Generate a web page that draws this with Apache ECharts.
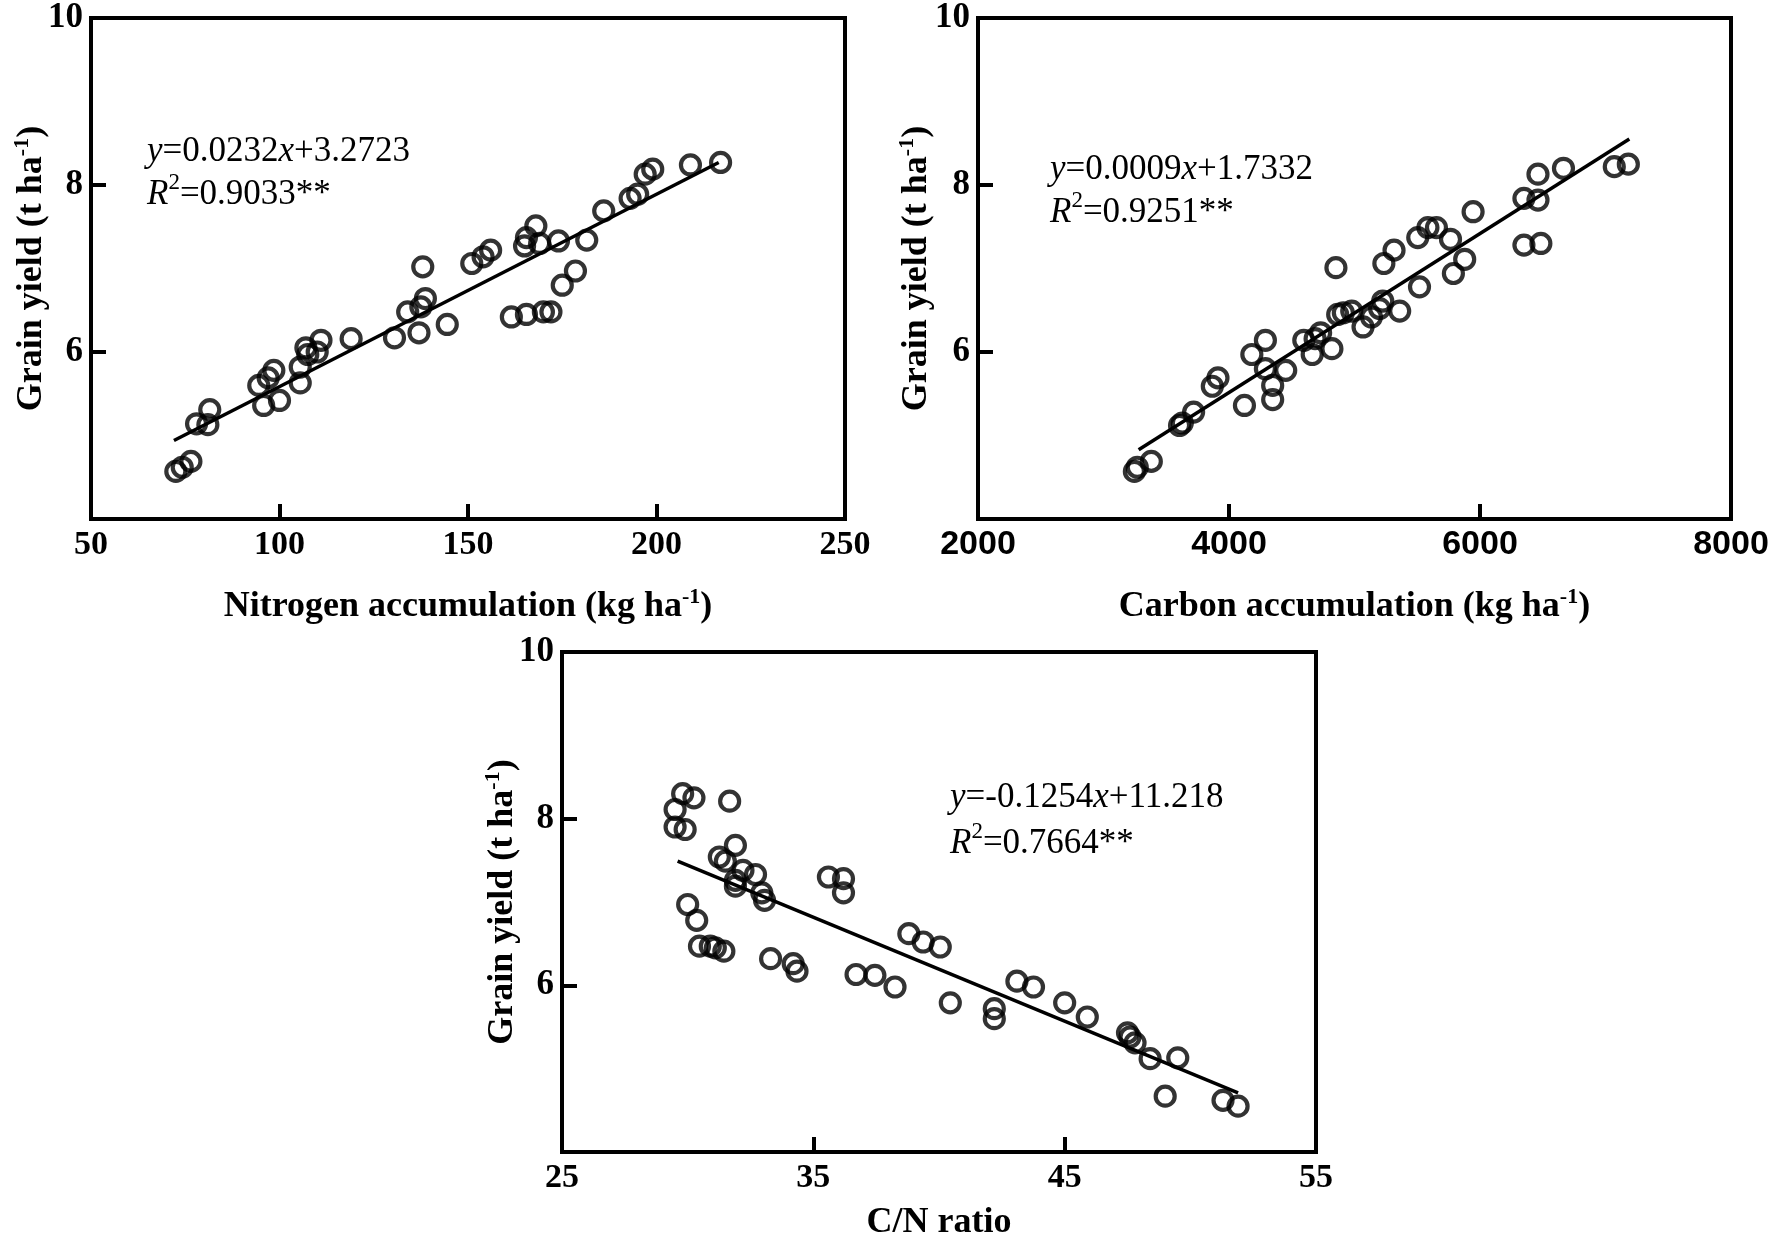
<!DOCTYPE html>
<html>
<head>
<meta charset="utf-8">
<script src="https://cdn.jsdelivr.net/npm/echarts@6/dist/echarts.min.js"></script>
<style>
  html, body { margin: 0; padding: 0; background: #fff; }
  #chart { width: 1772px; height: 1239px; }
</style>
</head>
<body>
<div id="chart"></div>
<script>
// panel a: nitrogen accumulation vs grain yield
var nAccum = [72.5,74.2,76.5,78,81,81.5,94.5,95.8,97,98.5,100,105.5,105.5,107,107.5,110,111,119,130.5,134,
  137,137.5,138,138.7,144.5,151,154,156,161.5,165.5,165,165.5,168,169,170,172,174,175,178.5,181.5,
  186,193,195,197,199,209,217];
var nYield = [4.57,4.62,4.69,5.14,5.13,5.31,5.6,5.36,5.69,5.78,5.42,5.63,5.82,6.05,5.97,6.0,6.14,6.16,6.17,6.48,
  6.23,6.54,7.02,6.64,6.33,7.06,7.14,7.22,6.42,6.45,7.27,7.37,7.51,7.3,6.48,6.48,7.33,6.8,6.97,7.34,
  7.69,7.84,7.89,8.13,8.19,8.24,8.27];
var nFit = [[72, 4.94], [216.5, 8.27]];

// panel b: carbon accumulation vs grain yield
var cAccum = [3246,3269,3381,3606,3628,3718,3867,3912,4123,4182,4290,4290,4348,4348,4452,4596,4663,4686,4730,4820,
  4852,4866,4911,4978,5068,5135,5225,5200,5234,5315,5360,5504,5518,5585,5653,5765,5788,5878,5945,6350,
  6350,6462,6462,6485,6665,7070,7182];
var cYield = [4.57,4.62,4.69,5.12,5.15,5.28,5.59,5.69,5.36,5.97,6.14,5.8,5.6,5.43,5.78,6.14,5.97,6.16,6.23,6.04,
  7.01,6.45,6.47,6.49,6.3,6.42,6.61,6.52,7.06,7.22,6.49,7.37,6.78,7.49,7.49,7.35,6.94,7.11,7.68,7.84,
  7.28,7.82,8.13,7.3,8.2,8.22,8.25];
var cFit = [[3280, 4.83], [7190, 8.55]];

// panel c: C/N ratio vs grain yield
var cnRatio = [29.5,29.8,30.25,29.5,29.9,31.67,31.9,31.26,31.5,32.2,31.9,31.9,32.7,32.95,33.06,30.0,30.36,30.47,30.9,31.1,
  31.44,33.3,34.2,34.35,35.6,36.2,36.2,36.7,37.45,38.25,38.8,39.37,40.05,40.45,42.2,42.2,43.1,43.76,45.0,45.9,
  47.5,47.6,47.8,48.4,49.5,49.0,51.3,51.9];
var cnYield = [8.11,8.3,8.25,7.9,7.87,8.21,7.68,7.54,7.49,7.38,7.26,7.19,7.33,7.11,7.02,6.97,6.78,6.47,6.47,6.45,
  6.41,6.32,6.26,6.17,7.3,7.28,7.11,6.13,6.12,5.98,6.62,6.52,6.46,5.79,5.72,5.6,6.05,5.98,5.79,5.62,
  5.43,5.38,5.31,5.12,5.13,4.67,4.62,4.55];
var cnFit = [[29.6, 7.49], [51.9, 4.71]];

var yTicks = { min: 4, max: 10, interval: 2 };

function pairs(xs, ys) {
  return xs.map(function (x, i) { return [x, ys[i]]; });
}

var serif = '"Liberation Serif", "Times New Roman", serif';
var supStyle = { fontSize: 22, fontFamily: serif, fontWeight: 'bold', color: '#000', verticalAlign: 'top' };
var nameStyle = { color: '#000', fontFamily: serif, fontWeight: 'bold', fontSize: 36, lineHeight: 42,
  rich: { sup: supStyle } };

function makeX(idx, min, max, interval, name, gap, labelFont) {
  return {
    type: 'value', gridIndex: idx, min: min, max: max, interval: interval,
    name: name, nameLocation: 'middle', nameGap: gap, nameMoveOverlap: false, nameTextStyle: nameStyle,
    axisLine: { lineStyle: { color: '#000', width: 4 } },
    axisTick: { inside: true, length: 15, lineStyle: { color: '#000', width: 4 } },
    axisLabel: { color: '#000', fontFamily: labelFont || serif, fontWeight: 'bold', fontSize: 34, margin: 9,
      formatter: function (v) { return String(v); } },
    splitLine: { show: false }
  };
}

function makeY(idx, gap) {
  return {
    type: 'value', gridIndex: idx, min: yTicks.min, max: yTicks.max, interval: yTicks.interval,
    name: 'Grain yield (t ha{sup|-1})', nameLocation: 'middle', nameGap: gap, nameRotate: 90,
    nameMoveOverlap: false, nameTextStyle: nameStyle,
    axisLine: { lineStyle: { color: '#000', width: 4 } },
    axisTick: { inside: true, length: 15, lineStyle: { color: '#000', width: 4 } },
    axisLabel: { color: '#000', fontFamily: serif, fontWeight: 'bold', fontSize: 35, margin: 8, showMinLabel: false },
    splitLine: { show: false }
  };
}

function scatter(idx, data) {
  return {
    type: 'scatter', xAxisIndex: idx, yAxisIndex: idx, data: data,
    symbol: 'circle', symbolSize: 19,
    itemStyle: { color: 'rgba(0,0,0,0)', borderColor: '#000', borderWidth: 4.2 },
    emphasis: { disabled: true }, silent: true
  };
}

function fit(idx, data) {
  return {
    type: 'line', xAxisIndex: idx, yAxisIndex: idx, data: data, showSymbol: false,
    lineStyle: { color: '#000', width: 3.5 }, silent: true, z: 1
  };
}

var eqRich = {
  i: { fontSize: 35, fontFamily: serif, fontStyle: 'italic', fill: '#000', lineHeight: 48 },
  s: { fontSize: 23, fontFamily: serif, fill: '#000', verticalAlign: 'top', lineHeight: 26 }
};
function eq(x, y, text) {
  return {
    type: 'text', x: x, y: y, silent: true,
    style: { text: text, fontSize: 35, fontFamily: serif, fill: '#000', lineHeight: 48,
      verticalAlign: 'middle', rich: eqRich }
  };
}

var chart = echarts.init(document.getElementById('chart'));
var gridBox = { show: true, borderColor: '#000', borderWidth: 4, backgroundColor: 'transparent',
  outerBoundsMode: 'none', containLabel: false };

chart.setOption({
  animation: false,
  backgroundColor: '#fff',
  grid: [
    Object.assign({ left: 91, top: 18, width: 754, height: 501 }, gridBox),
    Object.assign({ left: 978, top: 18, width: 753, height: 501 }, gridBox),
    Object.assign({ left: 562, top: 652, width: 754, height: 500 }, gridBox)
  ],
  xAxis: [
    makeX(0, 50, 250, 50, 'Nitrogen accumulation (kg ha{sup|-1})', 67),
    makeX(1, 2000, 8000, 2000, 'Carbon accumulation (kg ha{sup|-1})', 67, '"Liberation Sans", Arial, sans-serif'),
    makeX(2, 25, 55, 10, 'C/N ratio', 50)
  ],
  yAxis: [makeY(0, 38), makeY(1, 40), makeY(2, 38)],
  series: [
    scatter(0, pairs(nAccum, nYield)), fit(0, nFit),
    scatter(1, pairs(cAccum, cYield)), fit(1, cFit),
    scatter(2, pairs(cnRatio, cnYield)), fit(2, cnFit)
  ],
  graphic: [
    eq(147, 152, '{i|y}=0.0232{i|x}+3.2723'),
    eq(147, 195, '{i|R}{s|2}=0.9033**'),
    eq(1050, 170, '{i|y}=0.0009{i|x}+1.7332'),
    eq(1050, 213, '{i|R}{s|2}=0.9251**'),
    eq(950, 798, '{i|y}=-0.1254{i|x}+11.218'),
    eq(950, 844, '{i|R}{s|2}=0.7664**')
  ]
});
</script>
</body>
</html>
